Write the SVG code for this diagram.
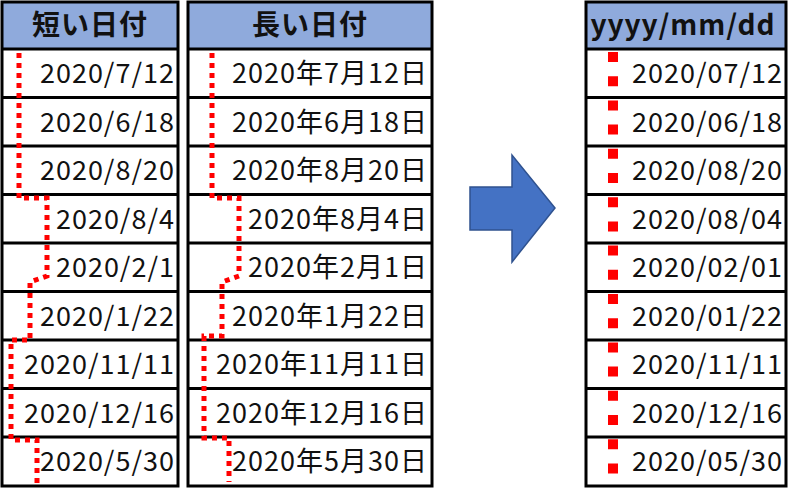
<svg xmlns="http://www.w3.org/2000/svg" width="790" height="489" viewBox="0 0 790 489">
<style>
.hd{fill:#8faadc}
.g{stroke:#000;stroke-width:3;fill:none}
.t{font-family:"Noto Sans CJK JP","Liberation Sans",sans-serif;font-size:27px;letter-spacing:1px;fill:#111;text-anchor:end}
.h{font-family:"Noto Sans CJK JP","Liberation Sans",sans-serif;font-size:28px;font-weight:bold;fill:#111;text-anchor:middle}
.d{stroke:#f00;stroke-width:5;fill:none;stroke-dasharray:5 5}
</style>
<rect width="790" height="489" fill="#fff"/>
<g id="table1">
<rect class="hd" x="2" y="2" width="176" height="47"/>
<path class="g" d="M2 2H178V486H2Z M2 49H178 M2 97.5H178 M2 146H178 M2 194.5H178 M2 243H178 M2 291.5H178 M2 340H178 M2 388.5H178 M2 437H178"/>
<text class="h" x="90" y="35" letter-spacing="1">短い日付</text>
<text class="t" x="175" y="83">2020/7/12</text>
<text class="t" x="175" y="131.5">2020/6/18</text>
<text class="t" x="175" y="180">2020/8/20</text>
<text class="t" x="175" y="228.5">2020/8/4</text>
<text class="t" x="175" y="277">2020/2/1</text>
<text class="t" x="175" y="325.5">2020/1/22</text>
<text class="t" x="175" y="374">2020/11/11</text>
<text class="t" x="175" y="422.5">2020/12/16</text>
<text class="t" x="175" y="471">2020/5/30</text>
</g>
<g id="table2">
<rect class="hd" x="188" y="2" width="244" height="47"/>
<path class="g" d="M188 2H432V486H188Z M188 49H432 M188 97.5H432 M188 146H432 M188 194.5H432 M188 243H432 M188 291.5H432 M188 340H432 M188 388.5H432 M188 437H432"/>
<text class="h" x="310" y="35" letter-spacing="1">長い日付</text>
<text class="t" x="428" y="83">2020年7月12日</text>
<text class="t" x="428" y="131.5">2020年6月18日</text>
<text class="t" x="428" y="180">2020年8月20日</text>
<text class="t" x="428" y="228.5">2020年8月4日</text>
<text class="t" x="428" y="277">2020年2月1日</text>
<text class="t" x="428" y="325.5">2020年1月22日</text>
<text class="t" x="428" y="374">2020年11月11日</text>
<text class="t" x="428" y="422.5">2020年12月16日</text>
<text class="t" x="428" y="471">2020年5月30日</text>
</g>
<g id="table3">
<rect class="hd" x="586" y="2" width="200" height="47"/>
<path class="g" d="M586 2H786V486H586Z M586 49H786 M586 97.5H786 M586 146H786 M586 194.5H786 M586 243H786 M586 291.5H786 M586 340H786 M586 388.5H786 M586 437H786"/>
<text class="h" x="683" y="35" font-size="27" letter-spacing="1">yyyy/mm/dd</text>
<text class="t" x="783" y="83">2020/07/12</text>
<text class="t" x="783" y="131.5">2020/06/18</text>
<text class="t" x="783" y="180">2020/08/20</text>
<text class="t" x="783" y="228.5">2020/08/04</text>
<text class="t" x="783" y="277">2020/02/01</text>
<text class="t" x="783" y="325.5">2020/01/22</text>
<text class="t" x="783" y="374">2020/11/11</text>
<text class="t" x="783" y="422.5">2020/12/16</text>
<text class="t" x="783" y="471">2020/05/30</text>
</g>
<g id="connectors">
<path class="d" d="M19 53V198H47V276L30 282V340H11V440H37V483"/>
<path class="d" d="M212 53V198H239V276L222 282V336H204V438H229V482"/>
<path d="M613 52V480" stroke="#f00" stroke-width="10" stroke-dasharray="10 14.2" fill="none"/>
</g>
<g id="arrow">
<path d="M470 187H512V155L555 208L512 262V230H470Z" fill="#4472c4" stroke="#2f528f" stroke-width="1.5"/>
</g>
</svg>
